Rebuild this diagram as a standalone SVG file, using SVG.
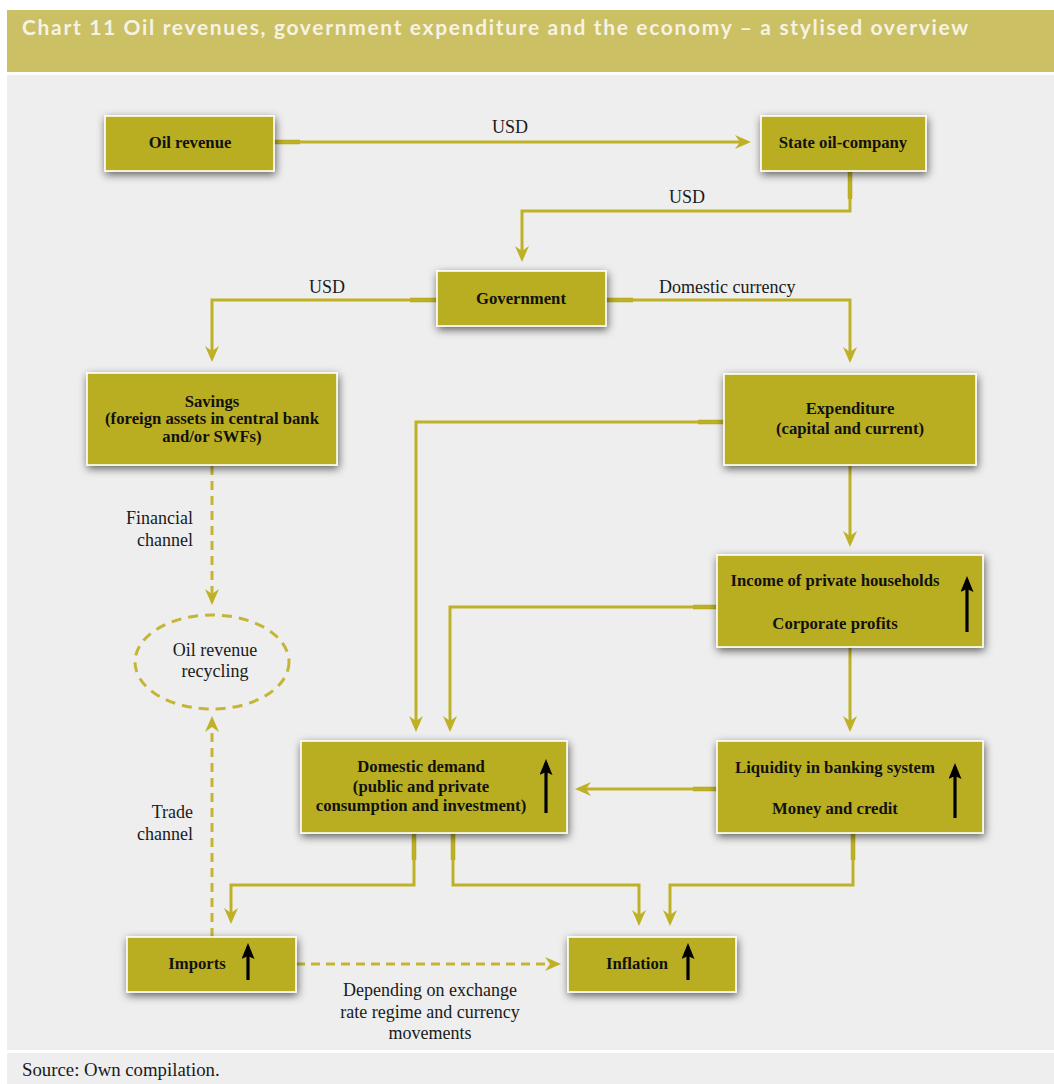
<svg xmlns="http://www.w3.org/2000/svg" width="1054" height="1084" viewBox="0 0 1054 1084">
<style>
.box{fill:#B9AE21;stroke:#FFFFFF;stroke-width:1.6;filter:url(#sh)}
.bt{font-family:"Liberation Serif","Times New Roman",serif;font-weight:bold;font-size:16.7px;text-anchor:middle;fill:#111}
.lt{font-family:"Liberation Serif","Times New Roman",serif;font-size:18px;fill:#1a1a1a}
.mid{text-anchor:middle}
.end{text-anchor:end}
.con{fill:none;stroke:#BEB126;stroke-width:3;marker-end:url(#ah)}
.dash{fill:none;stroke:#C4B634;stroke-width:3;stroke-dasharray:9 6}
.stub{fill:none;stroke:#B3A61C;stroke-width:4.5}
.up{stroke:#000;stroke-width:3.2;marker-end:url(#bk)}
</style>
<defs>
<filter id="sh" x="-20%" y="-40%" width="140%" height="190%">
<feDropShadow dx="1" dy="3" stdDeviation="4.5" flood-color="#000" flood-opacity="0.6"/>
</filter>
<marker id="ah" viewBox="0 0 16 14" markerWidth="16" markerHeight="14" refX="12" refY="7" orient="auto" markerUnits="userSpaceOnUse">
<path d="M0,0 L16,7 L0,14 L5,7 Z" fill="#BEB126"/>
</marker>
<marker id="bk" viewBox="0 0 16 13" markerWidth="16" markerHeight="13" refX="12" refY="6.5" orient="auto" markerUnits="userSpaceOnUse">
<path d="M0,0 L16,6.5 L0,13 L3,6.5 Z" fill="#000"/>
</marker>
</defs>
<rect x="0" y="0" width="1054" height="1084" fill="#FFFFFF"/>
<rect x="7" y="10" width="1047" height="62" fill="#CBC063"/>
<text x="22" y="35" textLength="946" lengthAdjust="spacing" font-family="Lato, 'Open Sans', sans-serif" font-weight="bold" font-size="21" fill="#F6F3E4">Chart 11 Oil revenues, government expenditure and the economy – a stylised overview</text>
<rect x="7" y="75" width="1047" height="975" fill="#EEEEEE"/>
<rect x="7" y="1053" width="1047" height="31" fill="#EEEEEE"/>
<text class="lt" x="22" y="1076" style="font-size:18.8px">Source: Own compilation.</text>

<g id="connectors">
<path class="stub" d="M274,142 H300 M850,171 V199 M437,300 H410 M606,300 H633 M724,422 H698 M717,607 H693 M717,789 H693 M414,833 V860 M453,833 V860 M853,833 V860"/>
<path class="con" d="M274,142 H747"/>
<path class="con" d="M850,171 V211 H522 V258"/>
<path class="con" d="M437,300 H212 V358"/>
<path class="con" d="M606,300 H850 V359"/>
<path class="con" d="M724,422 H416 V728"/>
<path class="con" d="M717,607 H450 V728"/>
<path class="con" d="M850,466 V543"/>
<path class="con" d="M850,647 V728"/>
<path class="con" d="M717,789 H579"/>
<path class="con" d="M414,833 V885 H231 V920"/>
<path class="con" d="M453,833 V885 H639 V922"/>
<path class="con" d="M853,833 V885 H670 V922"/>
<path class="dash" d="M296,964 H557" marker-end="url(#ah)"/>
<path class="dash" d="M212,466 V601" marker-end="url(#ah)"/>
<path class="dash" d="M212,937 V720" marker-end="url(#ah)"/>
<text class="lt mid" x="510" y="133">USD</text>
<text class="lt mid" x="687" y="203">USD</text>
<text class="lt mid" x="327" y="293">USD</text>
<text class="lt" x="659" y="293">Domestic currency</text>
<text class="lt end" x="193" y="524">Financial</text>
<text class="lt end" x="193" y="546">channel</text>
<text class="lt end" x="193" y="818">Trade</text>
<text class="lt end" x="193" y="840">channel</text>
<text class="lt mid" x="430" y="996">Depending on exchange</text>
<text class="lt mid" x="430" y="1018">rate regime and currency</text>
<text class="lt mid" x="430" y="1039">movements</text>
</g>

<g id="oil-revenue">
<rect class="box" x="105" y="116" width="169" height="55"/>
<text class="bt" x="190" y="148">Oil revenue</text>
</g>
<g id="state-oil-company">
<rect class="box" x="761" y="116" width="165" height="55"/>
<text class="bt" x="843" y="148">State oil-company</text>
</g>
<g id="government">
<rect class="box" x="437" y="271" width="169" height="55"/>
<text class="bt" x="521" y="304">Government</text>
</g>
<g id="savings">
<rect class="box" x="87" y="373" width="250" height="92"/>
<text class="bt" x="212" y="407">Savings</text>
<text class="bt" x="212" y="424">(foreign assets in central bank</text>
<text class="bt" x="212" y="442">and/or SWFs)</text>
</g>
<g id="expenditure">
<rect class="box" x="724" y="374" width="252" height="91"/>
<text class="bt" x="850" y="414">Expenditure</text>
<text class="bt" x="850" y="434">(capital and current)</text>
</g>
<g id="income">
<rect class="box" x="717" y="555" width="266" height="92"/>
<text class="bt" x="835" y="586">Income of private households</text>
<text class="bt" x="835" y="629">Corporate profits</text>
<line class="up" x1="967" y1="632" x2="967" y2="580"/>
</g>
<g id="liquidity">
<rect class="box" x="717" y="741" width="266" height="92"/>
<text class="bt" x="835" y="773">Liquidity in banking system</text>
<text class="bt" x="835" y="814">Money and credit</text>
<line class="up" x1="955" y1="818" x2="955" y2="767"/>
</g>
<g id="domestic-demand">
<rect class="box" x="301" y="741" width="266" height="92"/>
<text class="bt" x="421" y="772">Domestic demand</text>
<text class="bt" x="421" y="792">(public and private</text>
<text class="bt" x="421" y="811">consumption and investment)</text>
<line class="up" x1="546" y1="813" x2="546" y2="763"/>
</g>
<g id="oil-revenue-recycling">
<ellipse cx="212" cy="662" rx="77" ry="47" fill="none" stroke="#C4B634" stroke-width="3" stroke-dasharray="10 7"/>
<text class="lt mid" x="215" y="656">Oil revenue</text>
<text class="lt mid" x="215" y="677">recycling</text>
</g>
<g id="imports">
<rect class="box" x="127" y="937" width="169" height="55"/>
<text class="bt" x="197" y="969">Imports</text>
<line class="up" x1="248" y1="980" x2="248" y2="947"/>
</g>
<g id="inflation">
<rect class="box" x="568" y="937" width="168" height="55"/>
<text class="bt" x="637" y="969">Inflation</text>
<line class="up" x1="688" y1="980" x2="688" y2="947"/>
</g>
</svg>
